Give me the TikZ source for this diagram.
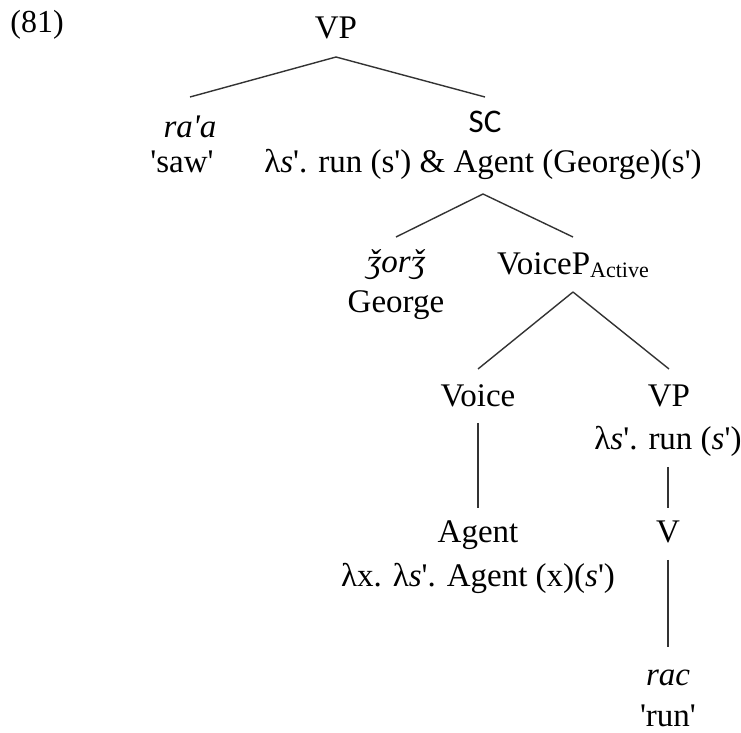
\documentclass[tikz,border=0pt]{standalone}
\usepackage{fontspec}
\setmainfont{Liberation Serif}[Ligatures=TeXOff]
\newfontfamily\scfont{Carlito}
\usetikzlibrary{calc}

\begin{document}
\begin{tikzpicture}[x=0.5pt, y=-0.5pt,
		cat_label/.style={anchor=base, inner sep=0pt, font=\fontsize{16.5}{20}\selectfont},
		obj_label/.style={cat_label, font=\fontsize{16.5}{20}\selectfont\itshape},
		branch_edge/.style={line width=0.7pt, black!80}
		]
		\useasboundingbox (0,0) rectangle (741,733);
		
		\node[cat_label, anchor=base west, font=\fontsize{16}{20}\selectfont] (ex) at (10,33) {(81)};
		
		\node[cat_label] (vp) at (336,39) {VP};
		\node[obj_label] (raa) at (190,138) {ra'a};
		\node[cat_label] (saw) at (182,173) {'saw'};
		\node[cat_label, font=\fontsize{16.5}{20}\scfont] (sc) at (485,133) {SC};
		\node[cat_label] (sc_sem) at (483,173) {λ\textit{s}'. run (s') \& Agent (George)(s')};
		
		\node[obj_label] (zorz) at (396,273) {ǯorǯ};
		\node[cat_label] (george) at (396,313) {George};
		\node[cat_label] (voicep) at (573,275) {VoiceP\raisebox{-1.5pt}{\fontsize{11}{13}\selectfont Active}};
		
		\node[cat_label] (voice) at (478,407) {Voice};
		\node[cat_label] (vp_low) at (669,407) {VP};
		\node[cat_label] (vp_low_sem) at (668,450) {λ\textit{s}'. run (\textit{s}')};
		
		\node[cat_label] (agent) at (478,543) {Agent};
		\node[cat_label] (agent_sem) at (478,587) {λx. λ\textit{s}'. Agent (x)(\textit{s}')};
		\node[cat_label] (v) at (668,543) {V};
		\node[obj_label] (rac) at (668,686) {rac};
		\node[cat_label] (run) at (668,726) {'run'};
		
		\draw[branch_edge] ($(vp.base)+(0,18)$) -- ($(raa.base)+(0,-41)$);
		\draw[branch_edge] ($(vp.base)+(0,18)$) -- ($(sc.base)+(0,-36)$);
		\draw[branch_edge] ($(sc_sem.base)+(0,21)$) -- ($(zorz.base)+(0,-36)$);
		\draw[branch_edge] ($(sc_sem.base)+(0,21)$) -- ($(voicep.base)+(0,-38)$);
		\draw[branch_edge] ($(voicep.base)+(0,17)$) -- ($(voice.base)+(0,-38)$);
		\draw[branch_edge] ($(voicep.base)+(0,17)$) -- ($(vp_low.base)+(0,-38)$);
		\draw[branch_edge] ($(voice.base)+(0,16)$) -- ($(agent.base)+(0,-35)$);
		\draw[branch_edge] ($(vp_low_sem.base)+(0,17)$) -- ($(v.base)+(0,-35)$);
		\draw[branch_edge] ($(v.base)+(0,17)$) -- ($(rac.base)+(0,-39)$);
	\end{tikzpicture}
\end{document}
